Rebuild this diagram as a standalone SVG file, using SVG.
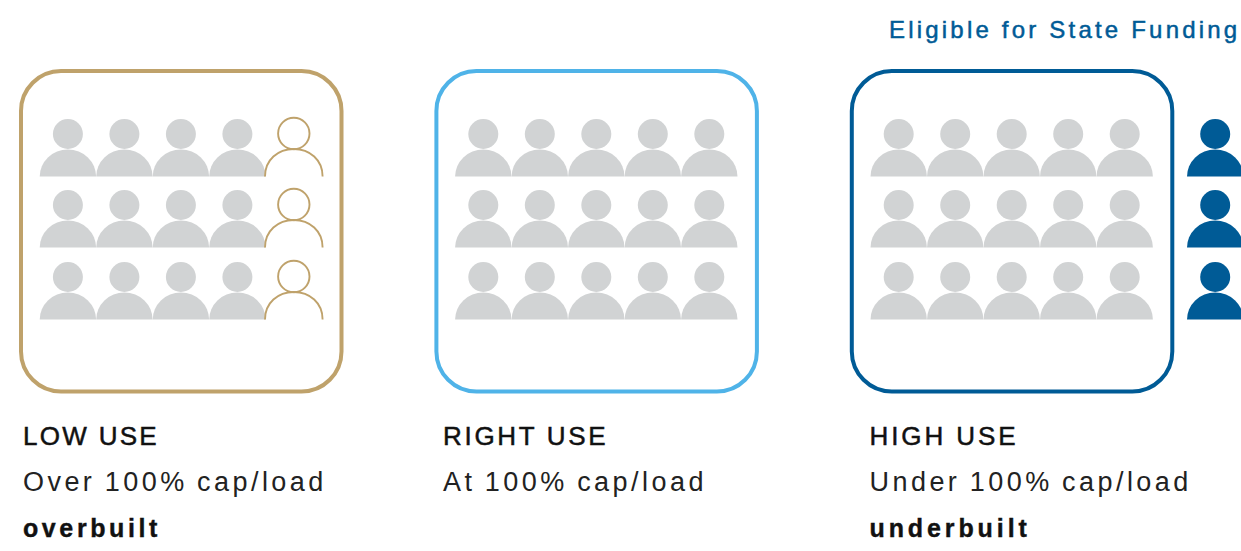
<svg xmlns="http://www.w3.org/2000/svg" xmlns:xlink="http://www.w3.org/1999/xlink" width="1241" height="551" viewBox="0 0 1241 551">
<style>
text{font-family:"Liberation Sans",Arial,sans-serif;fill:#111}
.h{font-size:26px;font-weight:400;stroke:#111;stroke-width:.5px}
.s{font-size:27px;letter-spacing:3.45px;word-spacing:-1.5px;fill:#222}
.b{font-size:25px;font-weight:700;stroke:#111;stroke-width:.4px}
.t{font-size:24px;letter-spacing:3.2px;fill:#005b96;stroke:#005b96;stroke-width:.5px}
.box{fill:#fff;stroke-width:4}
.g{fill:#d1d3d4}
.o{fill:none;stroke:#bfa26b;stroke-width:1.9}
.d{fill:#005b96}
</style>
<defs>
<g id="p"><circle cx="0" cy="0" r="15"/><path d="M-28.2 42.5A28.2 27 0 0 1 28.2 42.5Z"/></g>
<g id="po"><circle cx="0" cy="-.5" r="15.7"/><path d="M-28.8 42.5C-28.8 26 -16 15 0 15C16 15 28.8 26 28.8 42.5"/></g>
<g id="r5">
<use xlink:href="#p" x="67.9"/><use xlink:href="#p" x="124.4"/><use xlink:href="#p" x="180.9"/><use xlink:href="#p" x="237.400"/>
</g>
</defs>
<g id="low-use">
<rect class="box" x="21" y="71" width="320.500" height="320.500" rx="40" stroke="#bfa26b"/>
<g class="g"><use xlink:href="#r5" y="134"/><use xlink:href="#r5" y="205"/><use xlink:href="#r5" y="277"/></g>
<g class="o"><use xlink:href="#po" x="293.8" y="134"/><use xlink:href="#po" x="293.8" y="205"/><use xlink:href="#po" x="293.8" y="277"/></g>
<text class="h" x="23" y="445" style="letter-spacing:2.3px">LOW USE</text>
<text class="s" x="23" y="491">Over 100% cap/load</text>
<text class="b" x="23" y="537" style="letter-spacing:3.6px">overbuilt</text>
</g>
<g id="right-use">
<rect class="box" x="436.400" y="71" width="320.500" height="320.500" rx="40" stroke="#4fb3e8"/>
<g class="g" transform="translate(415.4,0)"><use xlink:href="#r5" y="134"/><use xlink:href="#r5" y="205"/><use xlink:href="#r5" y="277"/><use xlink:href="#p" x="293.9" y="134"/><use xlink:href="#p" x="293.9" y="205"/><use xlink:href="#p" x="293.9" y="277"/></g>
<text class="h" x="443" y="445" style="letter-spacing:2.7px">RIGHT USE</text>
<text class="s" x="443" y="491">At 100% cap/load</text>
</g>
<g id="high-use">
<rect class="box" x="851.800" y="71" width="320.500" height="320.500" rx="40" stroke="#005b96"/>
<g class="g" transform="translate(830.8,0)"><use xlink:href="#r5" y="134"/><use xlink:href="#r5" y="205"/><use xlink:href="#r5" y="277"/><use xlink:href="#p" x="293.9" y="134"/><use xlink:href="#p" x="293.9" y="205"/><use xlink:href="#p" x="293.9" y="277"/></g>
<text class="h" x="869.500" y="445" style="letter-spacing:2.9px">HIGH USE</text>
<text class="s" x="869.500" y="491">Under 100% cap/load</text>
<text class="b" x="869.500" y="537" style="letter-spacing:3.9px">underbuilt</text>
</g>
<g id="eligible">
<g class="d"><use xlink:href="#p" x="1215.200" y="134"/><use xlink:href="#p" x="1215.200" y="205"/><use xlink:href="#p" x="1215.200" y="277"/></g>
<text class="t" x="889" y="38">Eligible for State Funding</text>
</g>
</svg>
